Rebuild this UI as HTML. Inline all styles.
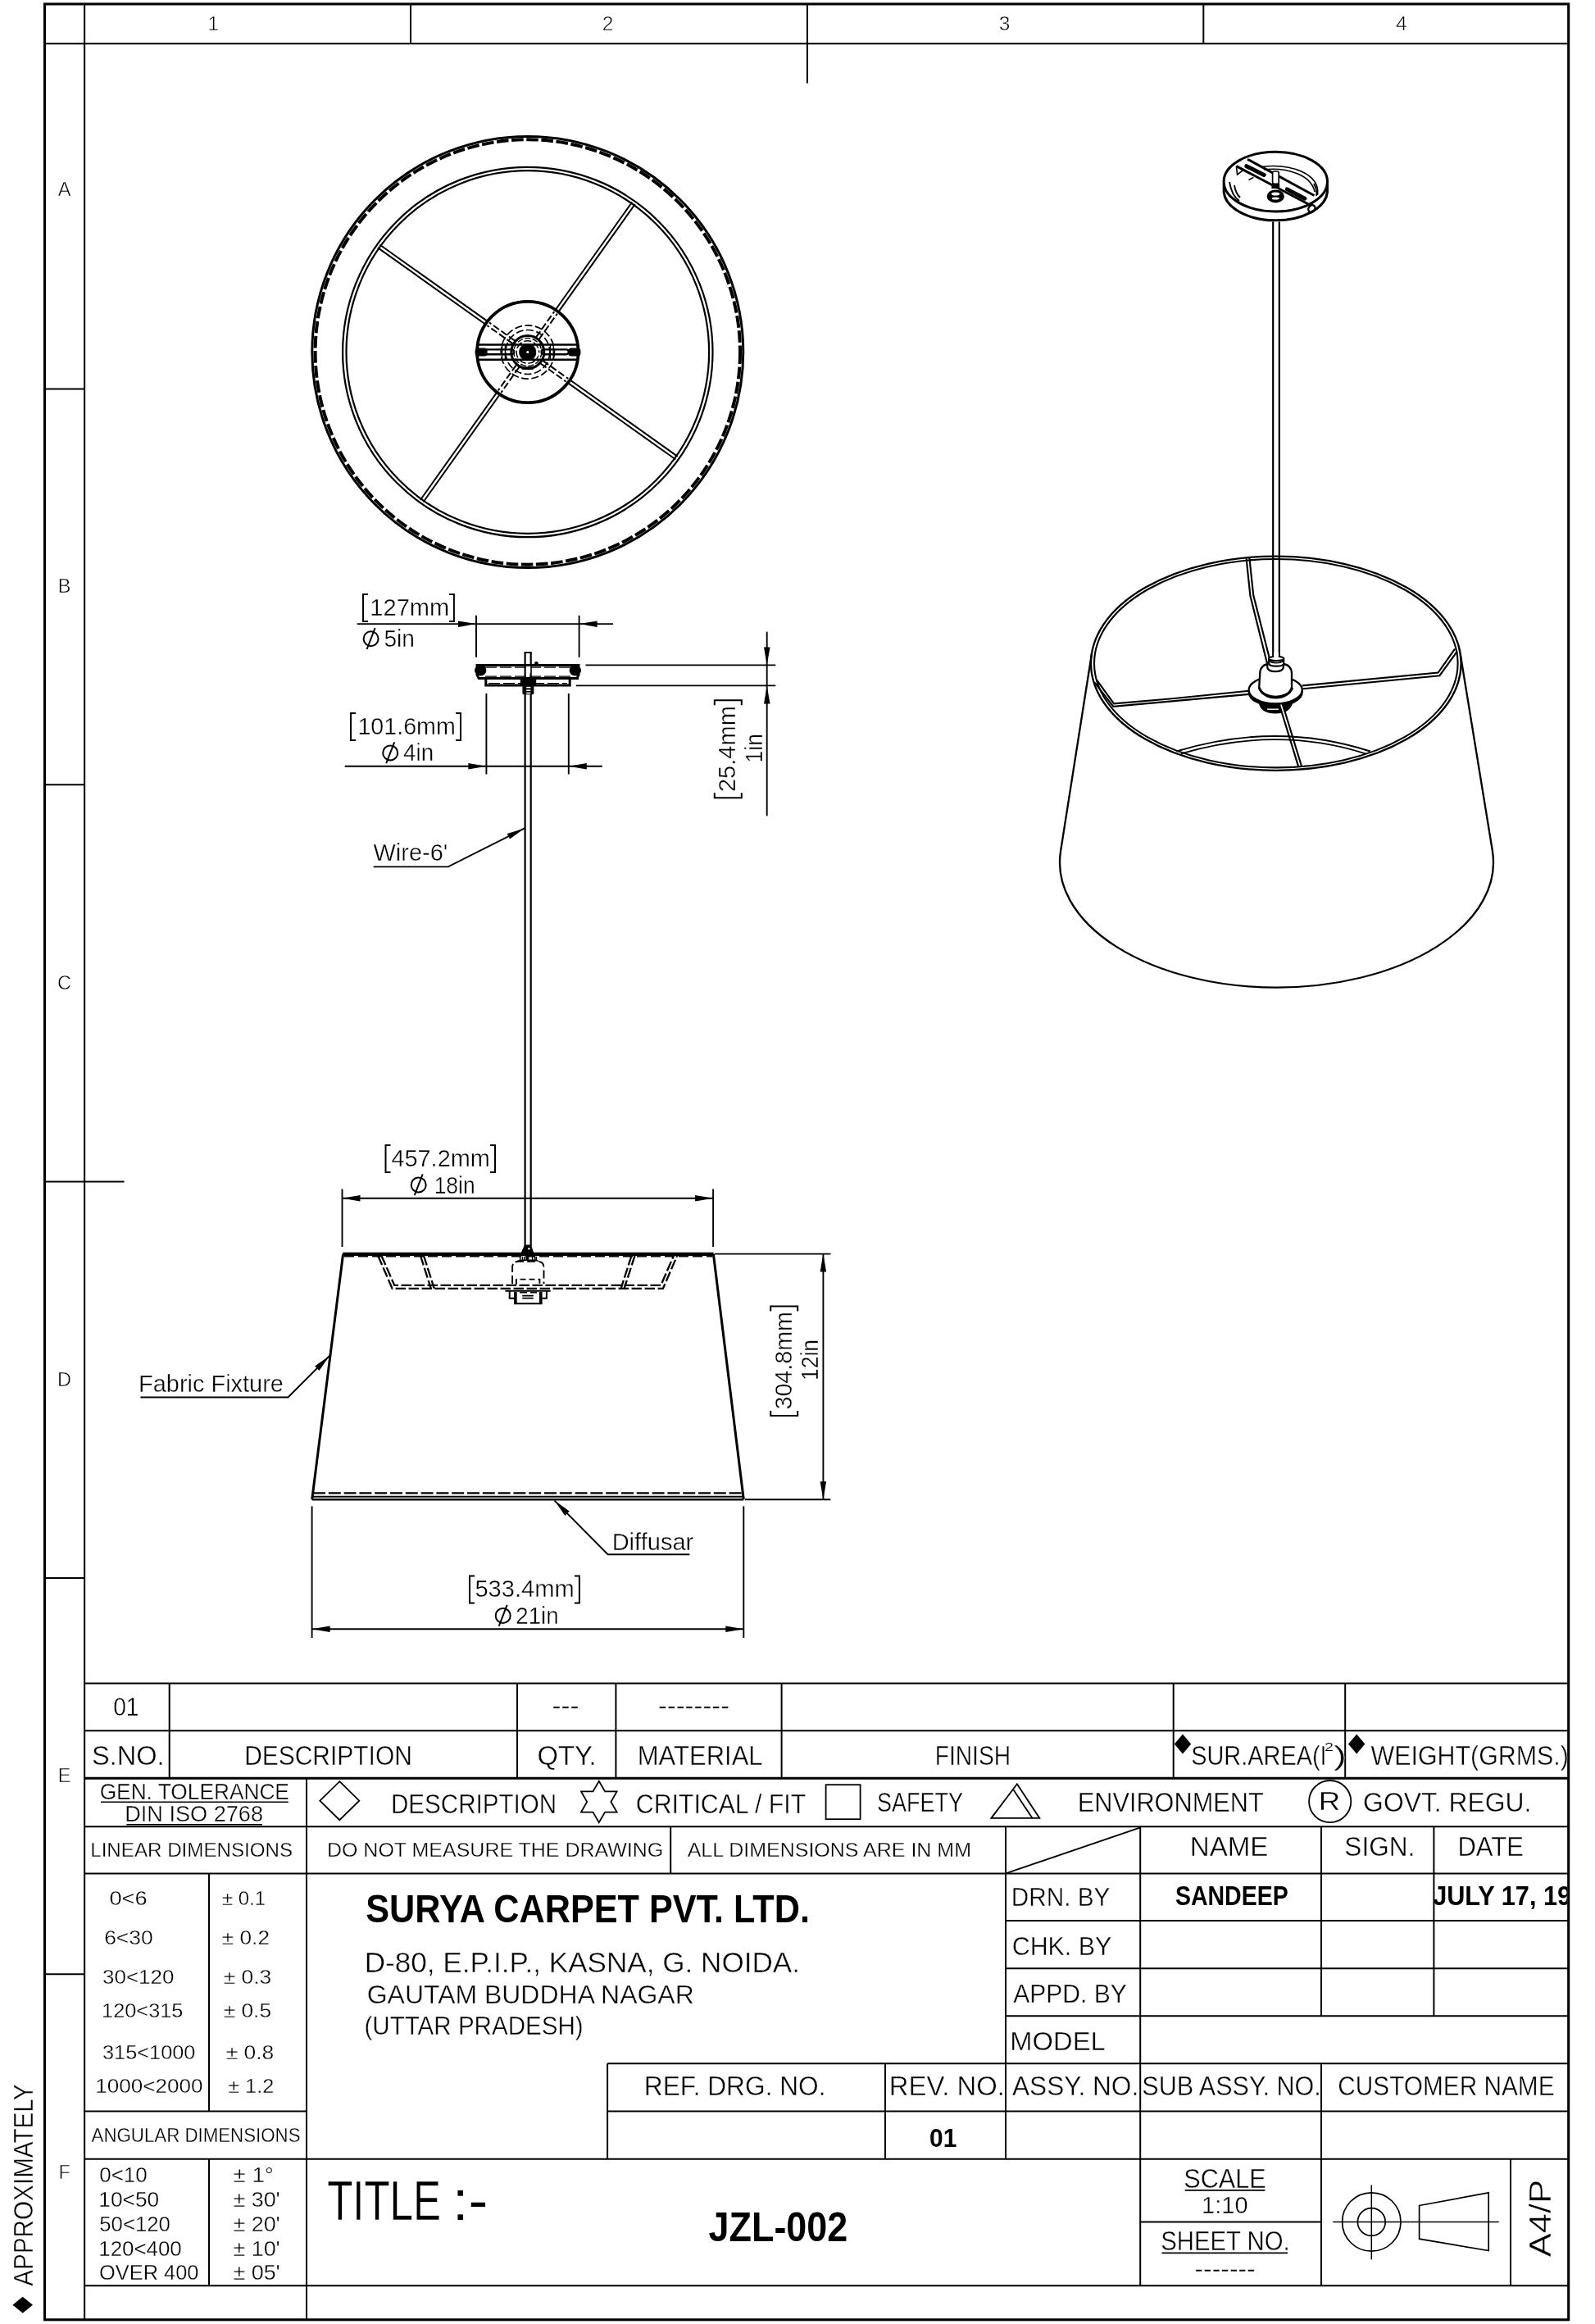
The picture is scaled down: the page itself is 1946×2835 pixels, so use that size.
<!DOCTYPE html>
<html><head><meta charset="utf-8"><title>JZL-002</title>
<style>
html,body{margin:0;padding:0;background:#fff;}
body{width:1946px;height:2835px;}
svg{display:block;font-family:"Liberation Sans",sans-serif;will-change:transform;-webkit-font-smoothing:antialiased;}
svg text{fill:#000;}
</style></head><body>
<svg width="1946" height="2835" viewBox="0 0 1946 2835" fill="none" stroke="#000" stroke-linecap="butt">
<rect x="0" y="0" width="1946" height="2835" fill="#fff" stroke="none"/>
<g id="frame">
<rect x="54.5" y="4.9" width="1859.2" height="2824.9" stroke-width="3.1"/>
<line x1="103.1" y1="4.9" x2="103.1" y2="2829.8" stroke-width="2.1" />
<line x1="54.5" y1="53.3" x2="1913.7" y2="53.3" stroke-width="2.1" />
<line x1="501" y1="4.9" x2="501" y2="53.3" stroke-width="2" />
<line x1="984.9" y1="4.9" x2="984.9" y2="101.6" stroke-width="2" />
<line x1="1468.3" y1="4.9" x2="1468.3" y2="53.3" stroke-width="2" />
<line x1="54.5" y1="474.4" x2="103.1" y2="474.4" stroke-width="2" />
<line x1="54.5" y1="957.2" x2="103.1" y2="957.2" stroke-width="2" />
<line x1="54.5" y1="1924.9" x2="103.1" y2="1924.9" stroke-width="2" />
<line x1="54.5" y1="2408.3" x2="103.1" y2="2408.3" stroke-width="2" />
<line x1="54.5" y1="1441.4" x2="151.5" y2="1441.4" stroke-width="2" />
<text x="260.2" y="36.6" font-size="24.5" text-anchor="middle" stroke="#fff" stroke-width="0.5">1</text>
<text x="741.5" y="36.6" font-size="24.5" text-anchor="middle" stroke="#fff" stroke-width="0.5">2</text>
<text x="1225.6" y="36.6" font-size="24.5" text-anchor="middle" stroke="#fff" stroke-width="0.5">3</text>
<text x="1709.7" y="36.6" font-size="24.5" text-anchor="middle" stroke="#fff" stroke-width="0.5">4</text>
<text x="78.6" y="238.8" font-size="23.5" text-anchor="middle" stroke="#fff" stroke-width="0.5">A</text>
<text x="78.6" y="722.9" font-size="23.5" text-anchor="middle" stroke="#fff" stroke-width="0.5">B</text>
<text x="78.6" y="1207.0" font-size="23.5" text-anchor="middle" stroke="#fff" stroke-width="0.5">C</text>
<text x="78.6" y="1690.6000000000001" font-size="23.5" text-anchor="middle" stroke="#fff" stroke-width="0.5">D</text>
<text x="78.6" y="2174.1" font-size="23.5" text-anchor="middle" stroke="#fff" stroke-width="0.5">E</text>
<text x="78.6" y="2657.6" font-size="23.5" text-anchor="middle" stroke="#fff" stroke-width="0.5">F</text>
<text x="39.54" y="2788.7" font-size="33.12" textLength="246.2" lengthAdjust="spacingAndGlyphs" stroke="#fff" stroke-width="0.43" transform="rotate(-90 39.6 2788.7)" >APPROXIMATELY</text>
<polygon points="27.7,2801.8 40,2811.8 27.7,2821.8 15.4,2811.8" fill="#000" stroke="none"/>
</g>
<g id="topview">
<circle cx="643.8" cy="429.5" r="263" stroke-width="3"/>
<circle cx="643.8" cy="429.5" r="259.2" stroke-width="4" stroke-dasharray="14.6 3.6"/>
<circle cx="643.8" cy="429.5" r="225.7" stroke-width="2.2"/>
<circle cx="643.8" cy="429.5" r="221.3" stroke-width="2.2"/>
<line x1="677.3" y1="378.5" x2="771.2" y2="246.5" stroke-width="2" />
<line x1="654.2" y1="411.1" x2="676.2" y2="380.1" stroke-width="2" stroke-dasharray="8.5 3.2"/>
<line x1="680.9" y1="381.1" x2="774.8" y2="249.0" stroke-width="2" />
<line x1="657.8" y1="413.7" x2="679.8" y2="382.7" stroke-width="2" stroke-dasharray="8.5 3.2"/>
<line x1="694.8" y1="463.0" x2="826.8" y2="556.9" stroke-width="2" />
<line x1="662.2" y1="439.9" x2="693.2" y2="461.9" stroke-width="2" stroke-dasharray="8.5 3.2"/>
<line x1="692.2" y1="466.6" x2="824.3" y2="560.5" stroke-width="2" />
<line x1="659.6" y1="443.5" x2="690.6" y2="465.5" stroke-width="2" stroke-dasharray="8.5 3.2"/>
<line x1="610.3" y1="480.5" x2="516.4" y2="612.5" stroke-width="2" />
<line x1="633.4" y1="447.9" x2="611.4" y2="478.9" stroke-width="2" stroke-dasharray="8.5 3.2"/>
<line x1="606.7" y1="477.9" x2="512.8" y2="610.0" stroke-width="2" />
<line x1="629.8" y1="445.3" x2="607.8" y2="476.3" stroke-width="2" stroke-dasharray="8.5 3.2"/>
<line x1="592.8" y1="396.0" x2="460.8" y2="302.1" stroke-width="2" />
<line x1="625.4" y1="419.1" x2="594.4" y2="397.1" stroke-width="2" stroke-dasharray="8.5 3.2"/>
<line x1="595.4" y1="392.4" x2="463.3" y2="298.5" stroke-width="2" />
<line x1="628.0" y1="415.5" x2="597.0" y2="393.5" stroke-width="2" stroke-dasharray="8.5 3.2"/>
<circle cx="643.8" cy="429.5" r="61.7" stroke-width="3.8"/>
<line x1="582.5" y1="420.4" x2="705.2" y2="420.4" stroke-width="2.5" />
<line x1="582.5" y1="438.8" x2="705.2" y2="438.8" stroke-width="2.5" />
<rect x="591" y="426.4" width="36" height="5.8" rx="2.9" stroke-width="2.4"/>
<rect x="660.6" y="426.4" width="33.2" height="5.8" rx="2.9" stroke-width="2.4"/>
<rect x="579.6" y="424.4" width="15" height="10" rx="3.5" fill="#000" stroke="none"/>
<rect x="693.4" y="424.4" width="15" height="10" rx="3.5" fill="#000" stroke="none"/>
<path d="M612.6,420.4 V438.8 M616.4,420.4 V438.8 M671.4,420.4 V438.8 M675.2,420.4 V438.8" stroke-width="1.4" />
<circle cx="643.8" cy="429.5" r="32.6" stroke-width="1.7" stroke-dasharray="9 3.5"/>
<circle cx="643.8" cy="429.5" r="27" stroke-width="1.7" stroke-dasharray="9 3.5"/>
<circle cx="643.8" cy="429.5" r="20" stroke-width="3"/>
<circle cx="643.8" cy="429.5" r="17" stroke-width="1.4" stroke-dasharray="7 2.5"/>
<circle cx="643.8" cy="429.5" r="13.8" stroke-width="1.6" stroke-dasharray="9 3"/>
<circle cx="643.8" cy="429.5" r="10.6" fill="#000" stroke="none"/>
<circle cx="643.8" cy="429.5" r="1.6" fill="#fff" stroke="none"/>
<path d="M654.4,428.6 l3.6,3.2 l-3.6,3.2" stroke-width="1.6" stroke="#fff"/>
<rect x="636.8" y="447.4" width="14" height="3.4" fill="#000" stroke="none"/>
</g>
<g id="front">
<line x1="640.6" y1="796" x2="640.6" y2="1520" stroke-width="2.2" />
<line x1="647.7" y1="796" x2="647.7" y2="1520" stroke-width="2.2" />
<line x1="639.6" y1="796" x2="648.8" y2="796" stroke-width="1.8" />
<path d="M580.5,811.4 H707.5" stroke-width="3" />
<path d="M583,827.4 H706" stroke-width="3" />
<path d="M581.4,822 L584,827.4 M706.6,822 L704,827.4" stroke-width="3" />
<ellipse cx="586.2" cy="817.8" rx="7.2" ry="6.8" fill="#000" stroke="none"/>
<ellipse cx="701.8" cy="817.8" rx="7.2" ry="6.8" fill="#000" stroke="none"/>
<path d="M592.8,827.4 V836 H695.2 V827.4" stroke-width="3" />
<line x1="592" y1="814.2" x2="696" y2="814.2" stroke-width="1.3" stroke-dasharray="14 4"/>
<line x1="592" y1="825.2" x2="696" y2="825.2" stroke-width="1.3" stroke-dasharray="14 4"/>
<line x1="596" y1="833.6" x2="692" y2="833.6" stroke-width="1.3" stroke-dasharray="14 4"/>
<rect x="634.8" y="826.6" width="19.4" height="9.4" fill="#000" stroke="none"/>
<rect x="637.4" y="836" width="14" height="11.2" rx="2" fill="#000" stroke="none"/>
<rect x="642.2" y="812.8" width="5" height="8.4" fill="#fff" stroke="none"/>
<line x1="642.2" y1="838.6" x2="647.4" y2="838.6" stroke-width="1.6" stroke="#fff"/>
<line x1="642.2" y1="842.2" x2="647.4" y2="842.2" stroke-width="1.6" stroke="#fff"/>
<line x1="642.2" y1="845.4" x2="647.4" y2="845.4" stroke-width="1.6" stroke="#fff"/>
<circle cx="654.4" cy="809.4" r="2.4" fill="#000" stroke="none"/>
<line x1="581" y1="750.8" x2="581" y2="801.8" stroke-width="1.9" />
<line x1="706.6" y1="750.8" x2="706.6" y2="801.8" stroke-width="1.9" />
<line x1="435.7" y1="761.1" x2="581" y2="761.1" stroke-width="1.9" />
<polygon points="581.0,761.1 559.0,764.9 559.0,757.4" fill="#000" stroke="none"/>
<line x1="581" y1="761.1" x2="706.6" y2="761.1" stroke-width="1.9" />
<line x1="706.6" y1="761.1" x2="748" y2="761.1" stroke-width="1.9" />
<polygon points="706.6,761.1 728.6,757.4 728.6,764.9" fill="#000" stroke="none"/>
<path d="M449,725.0 H443 V758.0 H449 M547.9,725.0 H553.9 V758.0 H547.9" stroke-width="2" />
<text x="451.39" y="750.6" font-size="28.98" textLength="96.83" lengthAdjust="spacingAndGlyphs" stroke="#fff" stroke-width="0.38" >127mm</text>
<text x="468.47" y="789.2" font-size="28.98" textLength="37.55" lengthAdjust="spacingAndGlyphs" stroke="#fff" stroke-width="0.38" >5in</text>
<circle cx="452.6" cy="779.2" r="9" stroke-width="2"/>
<line x1="447.6" y1="792.0" x2="457.6" y2="766.2" stroke-width="2" />
<line x1="593.4" y1="846" x2="593.4" y2="944.5" stroke-width="1.9" />
<line x1="693.8" y1="846" x2="693.8" y2="944.5" stroke-width="1.9" />
<line x1="420.7" y1="934.7" x2="593.4" y2="934.7" stroke-width="1.9" />
<polygon points="593.4,934.7 571.4,938.5 571.4,931.0" fill="#000" stroke="none"/>
<line x1="593.4" y1="934.7" x2="693.8" y2="934.7" stroke-width="1.9" />
<line x1="693.8" y1="934.7" x2="734.8" y2="934.7" stroke-width="1.9" />
<polygon points="693.8,934.7 715.8,931.0 715.8,938.5" fill="#000" stroke="none"/>
<path d="M434,870.0 H428 V903.0 H434 M556,870.0 H562 V903.0 H556" stroke-width="2" />
<text x="436.42" y="895.6" font-size="28.98" textLength="119.37" lengthAdjust="spacingAndGlyphs" stroke="#fff" stroke-width="0.38" >101.6mm</text>
<text x="492.06" y="928.2" font-size="28.98" textLength="37.04" lengthAdjust="spacingAndGlyphs" stroke="#fff" stroke-width="0.38" >4in</text>
<circle cx="476.2" cy="918.4" r="9" stroke-width="2"/>
<line x1="471.2" y1="931.1999999999999" x2="481.2" y2="905.4" stroke-width="2" />
<line x1="714.5" y1="811.4" x2="946.3" y2="811.4" stroke-width="1.9" />
<line x1="702.8" y1="836.4" x2="946.3" y2="836.4" stroke-width="1.9" />
<line x1="935.7" y1="770.7" x2="935.7" y2="995.3" stroke-width="1.9" />
<polygon points="935.7,811.4 932.0,789.4 939.5,789.4" fill="#000" stroke="none"/>
<polygon points="935.7,836.4 939.5,858.4 932.0,858.4" fill="#000" stroke="none"/>
<path d="M871.8,967.3 V973.3 H904.8 V967.3 M871.8,860.2 V854.2 H904.8 V860.2" stroke-width="2" />
<text x="895.9399999999999" y="964.6" font-size="28.98" textLength="105.08" lengthAdjust="spacingAndGlyphs" stroke="#fff" stroke-width="0.38" transform="rotate(-90 897.4 964.6)" >25.4mm</text>
<text x="927.6800000000001" y="928.4" font-size="28.98" textLength="35.34" lengthAdjust="spacingAndGlyphs" stroke="#fff" stroke-width="0.38" transform="rotate(-90 929.7 928.4)" >1in</text>
<text x="455.57" y="1049.9" font-size="28.98" textLength="90.68" lengthAdjust="spacingAndGlyphs" stroke="#fff" stroke-width="0.38" >Wire-6'</text>
<path d="M455.7,1057.4 H546.7 L640,1010.4" stroke-width="1.9" />
<polygon points="640.0,1010.4 622.0,1023.6 618.7,1016.9" fill="#000" stroke="none"/>
<path d="M418.4,1529.8 H870.6" stroke-width="4.2" />
<line x1="420" y1="1532.6" x2="869" y2="1532.6" stroke-width="1.8" stroke-dasharray="12 5"/>
<path d="M418.6,1529.8 L380.7,1829.2 M870.4,1529.8 L907.3,1829.2" stroke-width="3" />
<line x1="380.7" y1="1829.3" x2="907.3" y2="1829.3" stroke-width="2.6" />
<line x1="382" y1="1825.7" x2="906" y2="1825.7" stroke-width="1.9" />
<line x1="382" y1="1821.4" x2="906" y2="1821.4" stroke-width="2.2" stroke-dasharray="15 3.8"/>
<path d="M461.1,1531.5 L478.6,1571.9 H808.9 L826.3,1531.5" stroke-width="2.3" stroke-dasharray="12.5 3.5"/>
<path d="M465.3,1531.5 L481.2,1567.9 H806.3 L822.1,1531.5" stroke-width="2.3" stroke-dasharray="12.5 3.5"/>
<path d="M512.9,1531.5 L525.8,1571.9 M516.9,1531.5 L529.8,1571.9 M774.6,1531.5 L761.6,1571.9 M770.6,1531.5 L757.6,1571.9" stroke-width="2.3" stroke-dasharray="12.5 3.5"/>
<path d="M625.1,1566 V1546 Q625.1,1538.9 633,1538.9 H656 Q663.5,1538.9 663.5,1546 V1566" stroke-width="1.9" stroke-dasharray="10 4"/>
<path d="M629.9,1567 V1560.6 H658.4 V1567" stroke-width="1.9" stroke-dasharray="7 4"/>
<path d="M616.4,1574.7 H671.7 M621.7,1574.7 V1583.7 H627.1 M666.9,1574.7 V1583.7 H661.5 M627.1,1590.2 H661.5" stroke-width="2" />
<path d="M628.9,1576 V1590.2 M659.8,1576 V1590.2" stroke-width="3.6" />
<path d="M634,1576.6 H655" stroke-width="1.6" stroke-dasharray="9 4"/>
<path d="M637.2,1580.6 H650.8 M637.2,1583.6 H650.8" stroke-width="1.6" />
<path d="M640.5,1519 L636.6,1528 H650.4 L647.5,1519 Z" stroke-width="1.2" fill="#000"/>
<circle cx="645.4" cy="1523.3" r="1.2" fill="#fff" stroke="none"/>
<path d="M634.6,1532.7 V1537.2 M637.4,1532.7 V1537.2 M639.8,1532.7 V1537.2 M649.6,1532.7 V1537.2 M652.6,1532.7 V1537.2 M654.4,1532.7 V1537.2" stroke-width="1.5" />
<path d="M629,1539.4 Q632,1537.4 638,1537.2 H652 Q655,1537.4 657,1538.4" stroke-width="1.6" />
<ellipse cx="643.4" cy="1535" rx="2" ry="3" fill="#000" stroke="none"/>
<line x1="417.5" y1="1450.5" x2="417.5" y2="1521" stroke-width="1.9" />
<line x1="870.1" y1="1450.5" x2="870.1" y2="1521" stroke-width="1.9" />
<line x1="417.5" y1="1461.7" x2="870.1" y2="1461.7" stroke-width="1.9" />
<polygon points="417.5,1461.7 439.5,1458.0 439.5,1465.5" fill="#000" stroke="none"/>
<polygon points="870.1,1461.7 848.1,1465.5 848.1,1458.0" fill="#000" stroke="none"/>
<path d="M476.5,1397.0 H470.5 V1430.0 H476.5 M598,1397.0 H604 V1430.0 H598" stroke-width="2" />
<text x="477.44" y="1422.6" font-size="28.98" textLength="120.37" lengthAdjust="spacingAndGlyphs" stroke="#fff" stroke-width="0.38" >457.2mm</text>
<text x="529.69" y="1455.7" font-size="28.98" textLength="49.93" lengthAdjust="spacingAndGlyphs" stroke="#fff" stroke-width="0.38" >18in</text>
<circle cx="510.7" cy="1445.4" r="9" stroke-width="2"/>
<line x1="505.7" y1="1458.2" x2="515.7" y2="1432.4" stroke-width="2" />
<line x1="872" y1="1529.6" x2="1013.4" y2="1529.6" stroke-width="1.9" />
<line x1="909" y1="1829.2" x2="1013.4" y2="1829.2" stroke-width="1.9" />
<line x1="1004.4" y1="1529.6" x2="1004.4" y2="1829.2" stroke-width="1.9" />
<polygon points="1004.4,1529.6 1008.1,1551.6 1000.6,1551.6" fill="#000" stroke="none"/>
<polygon points="1004.4,1829.2 1000.6,1807.2 1008.1,1807.2" fill="#000" stroke="none"/>
<path d="M940.1999999999999,1721.1 V1727.1 H973.1999999999999 V1721.1 M940.1999999999999,1599.4 V1593.4 H973.1999999999999 V1599.4" stroke-width="2" />
<text x="964.7099999999999" y="1718.4" font-size="28.98" textLength="119.38" lengthAdjust="spacingAndGlyphs" stroke="#fff" stroke-width="0.38" transform="rotate(-90 965.8 1718.4)" >304.8mm</text>
<text x="995.79" y="1681.9" font-size="28.98" textLength="49.82" lengthAdjust="spacingAndGlyphs" stroke="#fff" stroke-width="0.38" transform="rotate(-90 997.8 1681.9)" >12in</text>
<text x="169.03" y="1697.7" font-size="28.98" textLength="176.96" lengthAdjust="spacingAndGlyphs" stroke="#fff" stroke-width="0.38" >Fabric Fixture</text>
<path d="M171.4,1704.5 H351.5 L402.3,1653.7" stroke-width="1.9" />
<polygon points="402.3,1653.7 389.4,1671.9 384.1,1666.6" fill="#000" stroke="none"/>
<text x="746.63" y="1890.7" font-size="28.98" textLength="99.65" lengthAdjust="spacingAndGlyphs" stroke="#fff" stroke-width="0.38" >Diffusar</text>
<path d="M841.3,1896.2 H741.6 L676.6,1830.6" stroke-width="1.9" />
<polygon points="676.6,1830.6 694.7,1843.6 689.4,1848.9" fill="#000" stroke="none"/>
<line x1="380.6" y1="1837.4" x2="380.6" y2="1998" stroke-width="1.9" />
<line x1="907.3" y1="1837.4" x2="907.3" y2="1998" stroke-width="1.9" />
<line x1="380.6" y1="1987.3" x2="907.3" y2="1987.3" stroke-width="1.9" />
<polygon points="380.6,1987.3 402.6,1983.5 402.6,1991.0" fill="#000" stroke="none"/>
<polygon points="907.3,1987.3 885.3,1991.0 885.3,1983.5" fill="#000" stroke="none"/>
<path d="M579,1922.5 H573 V1955.5 H579 M700.9,1922.5 H706.9 V1955.5 H700.9" stroke-width="2" />
<text x="579.43" y="1948.1" font-size="28.98" textLength="121.39" lengthAdjust="spacingAndGlyphs" stroke="#fff" stroke-width="0.38" >533.4mm</text>
<text x="629.31" y="1981.2" font-size="28.98" textLength="52.39" lengthAdjust="spacingAndGlyphs" stroke="#fff" stroke-width="0.38" >21in</text>
<circle cx="613.7" cy="1970.9" r="9" stroke-width="2"/>
<line x1="608.7" y1="1983.7" x2="618.7" y2="1957.9" stroke-width="2" />
</g>
<g id="iso">
<ellipse cx="1556.3" cy="221.6" rx="63.2" ry="36.4" stroke-width="3"/>
<path d="M1493.2,224 V234.5 A63.2,36.4 0 0 0 1619.4,234.5 V224" stroke-width="3" />
<path d="M1539,203.5 C1575,199 1611,212 1607.5,238" stroke-width="1.6" />
<path d="M1542,206.8 C1570,204 1600,213 1604,234" stroke-width="1.6" />
<path d="M1500,222 C1502,234 1506,241 1512,245 M1506,226 C1507,233 1510,238 1513,241 M1603,224 C1606,229 1607,234 1606,239" stroke-width="1.9" />
<path d="M1508.4,202.7 L1600,251 M1522,194.2 L1603.4,238.5" stroke-width="3" />
<path d="M1520.8,202.7 L1542.2,213.4 M1570.4,230.9 L1591.9,242.2" stroke-width="5" stroke-linecap="round"/>
<path d="M1508.4,202.7 L1509.6,213 L1517,207.4 M1523.4,219.6 L1529.4,216.4" stroke-width="1.6" />
<rect x="1552.6" y="209" width="7.6" height="15.4" rx="2" fill="#fff" stroke-width="1.7"/>
<ellipse cx="1556.3" cy="239.4" rx="10.6" ry="8" fill="#000" stroke="none"/>
<ellipse cx="1556.3" cy="236.6" rx="5" ry="2" fill="#fff" stroke="none"/>
<ellipse cx="1556.3" cy="242" rx="4.6" ry="1.6" fill="#fff" stroke="none"/>
<rect x="1551.4" y="224" width="9.8" height="6" fill="#000" stroke="none"/>
<ellipse cx="1600.4" cy="254.6" rx="3.8" ry="4.6" stroke-width="2.4" transform="rotate(35 1600.4 254.6)"/>
<line x1="1553.2" y1="270.4" x2="1553.2" y2="803.4" stroke-width="2.2" />
<line x1="1560.8" y1="270.4" x2="1560.8" y2="803.4" stroke-width="2.2" />
<ellipse cx="1556.8" cy="809.2" rx="225.8" ry="130.6" stroke-width="2.3"/>
<ellipse cx="1556.8" cy="809.2" rx="221.8" ry="127.19999999999999" stroke-width="2.1"/>
<path d="M1332,797.2 L1294.1,1038 M1781.6,797.2 L1820.9,1038" stroke-width="2.3" />
<path d="M1294.1,1038 A264.5,152.7 0 1 0 1820.9,1038" stroke-width="2.3" />
<path d="M1435.3,916.5 Q1557.6,879.5 1671.7,916.5" stroke-width="1.9" />
<path d="M1441,919.4 Q1557.6,885 1666,919.4" stroke-width="1.7" />
<path d="M1520.6,681.4 L1525.4,726.8 L1546.4,811 M1524.4,681 L1529.2,726 L1549.6,806" stroke-width="2.15" />
<path d="M1588.8,836.4 L1754.6,820.6 L1775,791.6 M1589.4,840.2 L1756.4,824.2 L1778,794.4" stroke-width="2.15" />
<path d="M1523.7,842.8 L1430,852.2 L1359,858.4 L1338.2,829.7 M1524,846.9 L1430,855.4 L1358.3,861.8 L1335.6,832.6" stroke-width="2.15" />
<ellipse cx="1556.2" cy="844.6" rx="32.5" ry="16.6" fill="#000" stroke="#000" stroke-width="2.2"/>
<path d="M1536.9,858 C1539,866 1546,869.4 1556.2,869.4 C1566,869.4 1573.5,866 1576,858 Z" stroke-width="2.2" fill="#000"/>
<path d="M1546,865.2 H1560" stroke-width="1.4" stroke="#fff"/>
<ellipse cx="1556.2" cy="841.7" rx="32.5" ry="16.6" fill="#fff" stroke-width="2.3"/>
<path d="M1561,859.8 L1584,934.6 M1564.8,858.8 L1587.8,934" stroke-width="2.15" />
<path d="M1562.9,859.6 L1566,869.6" stroke-width="1.6" stroke="#fff"/>
<path d="M1537.2,822 C1537.2,814 1542,810.4 1548,810 L1565,810 C1571,810.4 1576,814 1576,822 V838.7 C1572,853.6 1541,853.6 1536.2,838.7 Z" stroke-width="2.3" fill="#fff"/>
<path d="M1536.2,838.7 C1539,847 1548,850.9 1556.4,850.9 C1565,850.9 1574,847 1576.6,838.7" stroke-width="3" />
<path d="M1546.3,808 V814.6 C1548,820.6 1564,820.6 1565.8,814.6 V808 Z" stroke-width="2.2" fill="#fff"/>
<path d="M1548.2,803.6 V810 C1550,813.6 1564,813.6 1566.2,810 V803.6 Z" stroke-width="2.2" fill="#fff"/>
<path d="M1549,806.4 C1552,809.4 1562,809.4 1565.4,806.4" stroke-width="1.8" />
<ellipse cx="1557.2" cy="803.4" rx="9" ry="2.6" fill="#fff" stroke-width="2"/>
<rect x="1554.2" y="796" width="5.6" height="7.4" fill="#fff" stroke="none"/>
</g>
<g id="title">
<line x1="103.1" y1="2053.4" x2="1913.7" y2="2053.4" stroke-width="2" />
<line x1="103.1" y1="2111.3" x2="1913.7" y2="2111.3" stroke-width="2" />
<line x1="103.1" y1="2169.3" x2="1913.7" y2="2169.3" stroke-width="3" />
<line x1="103.1" y1="2228.2" x2="1913.7" y2="2228.2" stroke-width="2" />
<line x1="103.1" y1="2285.4" x2="1913.7" y2="2285.4" stroke-width="2" />
<line x1="1227" y1="2343" x2="1913.7" y2="2343" stroke-width="2" />
<line x1="1227" y1="2401.2" x2="1913.7" y2="2401.2" stroke-width="2" />
<line x1="1227" y1="2459.3" x2="1913.7" y2="2459.3" stroke-width="2" />
<line x1="741.1" y1="2517.3" x2="1913.7" y2="2517.3" stroke-width="2" />
<line x1="103.1" y1="2575.5" x2="374" y2="2575.5" stroke-width="2" />
<line x1="741.1" y1="2575.5" x2="1913.7" y2="2575.5" stroke-width="2" />
<line x1="103.1" y1="2633.8" x2="1913.7" y2="2633.8" stroke-width="2" />
<line x1="1391.4" y1="2710.5" x2="1612" y2="2710.5" stroke-width="2" />
<line x1="103.1" y1="2788.2" x2="1913.7" y2="2788.2" stroke-width="2" />
<line x1="206.7" y1="2053.4" x2="206.7" y2="2169.3" stroke-width="2" />
<line x1="631" y1="2053.4" x2="631" y2="2169.3" stroke-width="2" />
<line x1="751.4" y1="2053.4" x2="751.4" y2="2169.3" stroke-width="2" />
<line x1="953.6" y1="2053.4" x2="953.6" y2="2169.3" stroke-width="2" />
<line x1="1431.7" y1="2053.4" x2="1431.7" y2="2169.3" stroke-width="2" />
<line x1="1641.2" y1="2053.4" x2="1641.2" y2="2169.3" stroke-width="2" />
<line x1="374" y1="2169.3" x2="374" y2="2829.8" stroke-width="2" />
<line x1="255" y1="2285.4" x2="255" y2="2575.5" stroke-width="2" />
<line x1="255" y1="2633.8" x2="255" y2="2788.2" stroke-width="2" />
<line x1="818.2" y1="2228.2" x2="818.2" y2="2285.4" stroke-width="2" />
<line x1="1227" y1="2228.2" x2="1227" y2="2633.8" stroke-width="2" />
<line x1="1391.2" y1="2228.2" x2="1391.2" y2="2788.2" stroke-width="2" />
<line x1="1612" y1="2228.2" x2="1612" y2="2459.3" stroke-width="2" />
<line x1="1612" y1="2517.3" x2="1612" y2="2788.2" stroke-width="2" />
<line x1="1749.4" y1="2228.2" x2="1749.4" y2="2459.3" stroke-width="2" />
<line x1="741.1" y1="2517.3" x2="741.1" y2="2633.8" stroke-width="2" />
<line x1="1080" y1="2517.3" x2="1080" y2="2633.8" stroke-width="2" />
<line x1="1843" y1="2633.8" x2="1843" y2="2788.2" stroke-width="2" />
<line x1="1227" y1="2285.4" x2="1391.2" y2="2229.4" stroke-width="1.8" />
<text x="138.2" y="2093" font-size="31.05" textLength="31.38" lengthAdjust="spacingAndGlyphs" stroke="#fff" stroke-width="0.4" >01</text>
<text x="673.54" y="2090.5" font-size="31.05" textLength="32.93" lengthAdjust="spacingAndGlyphs" stroke="#fff" stroke-width="0.4" >---</text>
<text x="802.95" y="2090.5" font-size="31.05" textLength="87.11" lengthAdjust="spacingAndGlyphs" stroke="#fff" stroke-width="0.4" >--------</text>
<text x="111.92" y="2152.5" font-size="33.64" textLength="88.76" lengthAdjust="spacingAndGlyphs" stroke="#fff" stroke-width="0.44" >S.NO.</text>
<text x="298.14" y="2152.5" font-size="33.64" textLength="204.7" lengthAdjust="spacingAndGlyphs" stroke="#fff" stroke-width="0.44" >DESCRIPTION</text>
<text x="655.43" y="2152.5" font-size="33.64" textLength="72.3" lengthAdjust="spacingAndGlyphs" stroke="#fff" stroke-width="0.44" >QTY.</text>
<text x="777.79" y="2152.5" font-size="33.64" textLength="152.82" lengthAdjust="spacingAndGlyphs" stroke="#fff" stroke-width="0.44" >MATERIAL</text>
<text x="1140.69" y="2153" font-size="33.64" textLength="92.41" lengthAdjust="spacingAndGlyphs" stroke="#fff" stroke-width="0.44" >FINISH</text>
<polygon points="1443,2115.4 1453.2,2127.4 1443,2139.4 1432.8,2127.4" fill="#000" stroke="none"/>
<polygon points="1655.2,2115.4 1665.4,2127.4 1655.2,2139.4 1645,2127.4" fill="#000" stroke="none"/>
<text x="1453.19" y="2153" font-size="33.64" textLength="165.48" lengthAdjust="spacingAndGlyphs" stroke="#fff" stroke-width="0.44" >SUR.AREA(I</text>
<text x="1616.01" y="2136" font-size="14.49" textLength="10.99" lengthAdjust="spacingAndGlyphs" stroke="#fff" stroke-width="0.19" >2</text>
<text x="1626.71" y="2153" font-size="33.64" textLength="16.33" lengthAdjust="spacingAndGlyphs" stroke="#fff" stroke-width="0.44" >)</text>
<text x="1672.57" y="2153" font-size="33.64" textLength="241.32" lengthAdjust="spacingAndGlyphs" stroke="#fff" stroke-width="0.44" >WEIGHT(GRMS.)</text>
<text x="121.68" y="2194.7" font-size="27.94" textLength="231.24" lengthAdjust="spacingAndGlyphs" stroke="#fff" stroke-width="0.36" >GEN. TOLERANCE</text>
<line x1="123" y1="2198.2999999999997" x2="351.8" y2="2198.2999999999997" stroke-width="1.6" />
<text x="152.17" y="2222.4" font-size="27.94" textLength="168.9" lengthAdjust="spacingAndGlyphs" stroke="#fff" stroke-width="0.36" >DIN ISO 2768</text>
<line x1="154.4" y1="2225.8" x2="319.9" y2="2225.8" stroke-width="1.6" />
<text x="110.22" y="2264.5" font-size="24.32" textLength="246.89" lengthAdjust="spacingAndGlyphs" stroke="#fff" stroke-width="0.32" >LINEAR DIMENSIONS</text>
<polygon points="414.3,2173.2 438.3,2196.7 414.3,2220.2 390.3,2196.7" stroke-width="1.8"/>
<text x="476.97" y="2211.5" font-size="33.12" textLength="202.24" lengthAdjust="spacingAndGlyphs" stroke="#fff" stroke-width="0.43" >DESCRIPTION</text>
<polygon points="730.8,2172.8 738.1,2185.4 752.6,2185.4 745.4,2198.0 752.6,2210.6 738.1,2210.6 730.8,2223.2 723.5,2210.6 709.0,2210.6 716.2,2198.0 709.0,2185.4 723.5,2185.4" stroke-width="1.8"/>
<text x="775.77" y="2211.6" font-size="32.6" textLength="207.42" lengthAdjust="spacingAndGlyphs" stroke="#fff" stroke-width="0.42" >CRITICAL / FIT</text>
<rect x="1007.6" y="2177.2" width="42" height="42" stroke-width="1.8"/>
<text x="1070.07" y="2210" font-size="33.12" textLength="105.02" lengthAdjust="spacingAndGlyphs" stroke="#fff" stroke-width="0.43" >SAFETY</text>
<polygon points="1209.4,2217.9 1240.9,2176.3 1268.3,2217.9" stroke-width="1.8"/>
<line x1="1236.6" y1="2183.5" x2="1259.6" y2="2217.9" stroke-width="1.8" />
<text x="1314.78" y="2210" font-size="33.12" textLength="226.92" lengthAdjust="spacingAndGlyphs" stroke="#fff" stroke-width="0.43" >ENVIRONMENT</text>
<circle cx="1622.7" cy="2197.6" r="25.6" stroke-width="1.8"/>
<text x="1608.79" y="2208.4" font-size="32.09" textLength="26.51" lengthAdjust="spacingAndGlyphs" stroke="#fff" stroke-width="0.42" >R</text>
<text x="1663.12" y="2210" font-size="33.12" textLength="205.33" lengthAdjust="spacingAndGlyphs" stroke="#fff" stroke-width="0.43" >GOVT. REGU.</text>
<text x="398.96" y="2264.5" font-size="24.32" textLength="410.3" lengthAdjust="spacingAndGlyphs" stroke="#fff" stroke-width="0.32" >DO NOT MEASURE THE DRAWING</text>
<text x="838.65" y="2264.5" font-size="24.32" textLength="346.39" lengthAdjust="spacingAndGlyphs" stroke="#fff" stroke-width="0.32" >ALL DIMENSIONS ARE IN MM</text>
<text x="1451.78" y="2263.8" font-size="33.12" textLength="95.64" lengthAdjust="spacingAndGlyphs" stroke="#fff" stroke-width="0.43" >NAME</text>
<text x="1640.37" y="2263.8" font-size="33.12" textLength="85.91" lengthAdjust="spacingAndGlyphs" stroke="#fff" stroke-width="0.43" >SIGN.</text>
<text x="1778.42" y="2263.8" font-size="33.12" textLength="80.47" lengthAdjust="spacingAndGlyphs" stroke="#fff" stroke-width="0.43" >DATE</text>
<text x="133.44" y="2324" font-size="24.32" textLength="46.16" lengthAdjust="spacingAndGlyphs" stroke="#fff" stroke-width="0.32" >0&lt;6</text>
<text x="270.94" y="2324" font-size="24.32" textLength="53.13" lengthAdjust="spacingAndGlyphs" stroke="#fff" stroke-width="0.32" >± 0.1</text>
<text x="127.16" y="2372.1" font-size="24.32" textLength="59.58" lengthAdjust="spacingAndGlyphs" stroke="#fff" stroke-width="0.32" >6&lt;30</text>
<text x="270.87" y="2372.1" font-size="24.32" textLength="58.15" lengthAdjust="spacingAndGlyphs" stroke="#fff" stroke-width="0.32" >± 0.2</text>
<text x="125.01" y="2419.6" font-size="24.32" textLength="87.51" lengthAdjust="spacingAndGlyphs" stroke="#fff" stroke-width="0.32" >30&lt;120</text>
<text x="272.66" y="2419.6" font-size="24.32" textLength="58.5" lengthAdjust="spacingAndGlyphs" stroke="#fff" stroke-width="0.32" >± 0.3</text>
<text x="124.07" y="2460.6" font-size="24.32" textLength="99.4" lengthAdjust="spacingAndGlyphs" stroke="#fff" stroke-width="0.32" >120&lt;315</text>
<text x="272.66" y="2460.6" font-size="24.32" textLength="58.44" lengthAdjust="spacingAndGlyphs" stroke="#fff" stroke-width="0.32" >± 0.5</text>
<text x="125.04" y="2511.7" font-size="24.32" textLength="113.35" lengthAdjust="spacingAndGlyphs" stroke="#fff" stroke-width="0.32" >315&lt;1000</text>
<text x="275.66" y="2511.7" font-size="24.32" textLength="58.59" lengthAdjust="spacingAndGlyphs" stroke="#fff" stroke-width="0.32" >± 0.8</text>
<text x="116.21" y="2552.6" font-size="24.32" textLength="131.2" lengthAdjust="spacingAndGlyphs" stroke="#fff" stroke-width="0.32" >1000&lt;2000</text>
<text x="278.2" y="2552.6" font-size="24.32" textLength="56.08" lengthAdjust="spacingAndGlyphs" stroke="#fff" stroke-width="0.32" >± 1.2</text>
<text x="446.29" y="2345" font-size="47.62" textLength="541.6" lengthAdjust="spacingAndGlyphs" font-weight="bold" stroke="none" >SURYA CARPET PVT. LTD.</text>
<text x="444.67" y="2406.4" font-size="34.15" textLength="531.38" lengthAdjust="spacingAndGlyphs" stroke="#fff" stroke-width="0.44" >D-80, E.P.I.P., KASNA, G. NOIDA.</text>
<text x="447.71" y="2443.7" font-size="31.05" textLength="399.06" lengthAdjust="spacingAndGlyphs" stroke="#fff" stroke-width="0.4" >GAUTAM BUDDHA NAGAR</text>
<text x="444.48" y="2481.6" font-size="31.05" textLength="267.24" lengthAdjust="spacingAndGlyphs" stroke="#fff" stroke-width="0.4" >(UTTAR PRADESH)</text>
<text x="1233.86" y="2324.5" font-size="31.05" textLength="120.59" lengthAdjust="spacingAndGlyphs" stroke="#fff" stroke-width="0.4" >DRN. BY</text>
<text x="1234.76" y="2385.1" font-size="31.05" textLength="121.51" lengthAdjust="spacingAndGlyphs" stroke="#fff" stroke-width="0.4" >CHK. BY</text>
<text x="1236.24" y="2442.6" font-size="31.05" textLength="138.62" lengthAdjust="spacingAndGlyphs" stroke="#fff" stroke-width="0.4" >APPD. BY</text>
<text x="1232.32" y="2500.7" font-size="31.05" textLength="116.37" lengthAdjust="spacingAndGlyphs" stroke="#fff" stroke-width="0.4" >MODEL</text>
<text x="1433.88" y="2324" font-size="32.64" textLength="137.8" lengthAdjust="spacingAndGlyphs" font-weight="bold" stroke="none" >SANDEEP</text>
<clipPath id="cd"><rect x="1749" y="2290" width="163.2" height="50"/></clipPath>
<text x="1748.14" y="2323.6" font-size="33.17" textLength="168.97" lengthAdjust="spacingAndGlyphs" font-weight="bold" stroke="none" clip-path="url(#cd)">JULY 17, 19</text>
<text x="785.84" y="2556.4" font-size="32.6" textLength="221.7" lengthAdjust="spacingAndGlyphs" stroke="#fff" stroke-width="0.42" >REF. DRG. NO.</text>
<text x="1084.86" y="2556.4" font-size="32.6" textLength="141.07" lengthAdjust="spacingAndGlyphs" stroke="#fff" stroke-width="0.42" >REV. NO.</text>
<text x="1234.94" y="2556.4" font-size="32.6" textLength="154.38" lengthAdjust="spacingAndGlyphs" stroke="#fff" stroke-width="0.42" >ASSY. NO.</text>
<text x="1393.25" y="2556.4" font-size="32.6" textLength="218.47" lengthAdjust="spacingAndGlyphs" stroke="#fff" stroke-width="0.42" >SUB ASSY. NO.</text>
<text x="1632.29" y="2556.4" font-size="32.6" textLength="264.29" lengthAdjust="spacingAndGlyphs" stroke="#fff" stroke-width="0.42" >CUSTOMER NAME</text>
<text x="1134.12" y="2618.5" font-size="32.1" textLength="33.32" lengthAdjust="spacingAndGlyphs" font-weight="bold" stroke="none" >01</text>
<text x="111.56" y="2613.4" font-size="24.32" textLength="254.97" lengthAdjust="spacingAndGlyphs" stroke="#fff" stroke-width="0.32" >ANGULAR DIMENSIONS</text>
<text x="121.29" y="2662.3" font-size="25.87" textLength="58.43" lengthAdjust="spacingAndGlyphs" stroke="#fff" stroke-width="0.34" >0&lt;10</text>
<text x="284.42" y="2662.3" font-size="25.87" textLength="49.55" lengthAdjust="spacingAndGlyphs" stroke="#fff" stroke-width="0.34" >± 1°</text>
<text x="120.3" y="2692.4" font-size="25.87" textLength="73.83" lengthAdjust="spacingAndGlyphs" stroke="#fff" stroke-width="0.34" >10&lt;50</text>
<text x="284.45" y="2692.4" font-size="25.87" textLength="57.31" lengthAdjust="spacingAndGlyphs" stroke="#fff" stroke-width="0.34" >± 30'</text>
<text x="121.27" y="2721.8" font-size="25.87" textLength="86.64" lengthAdjust="spacingAndGlyphs" stroke="#fff" stroke-width="0.34" >50&lt;120</text>
<text x="284.45" y="2721.8" font-size="25.87" textLength="57.31" lengthAdjust="spacingAndGlyphs" stroke="#fff" stroke-width="0.34" >± 20'</text>
<text x="120.33" y="2751.9" font-size="25.87" textLength="101.38" lengthAdjust="spacingAndGlyphs" stroke="#fff" stroke-width="0.34" >120&lt;400</text>
<text x="284.45" y="2751.9" font-size="25.87" textLength="57.31" lengthAdjust="spacingAndGlyphs" stroke="#fff" stroke-width="0.34" >± 10'</text>
<text x="121.1" y="2781.4" font-size="25.87" textLength="121.29" lengthAdjust="spacingAndGlyphs" stroke="#fff" stroke-width="0.34" >OVER 400</text>
<text x="284.45" y="2781.4" font-size="25.87" textLength="57.31" lengthAdjust="spacingAndGlyphs" stroke="#fff" stroke-width="0.34" >± 05'</text>
<text x="399.15" y="2707.7" font-size="68.93" textLength="138.84" lengthAdjust="spacingAndGlyphs" stroke="#fff" stroke-width="0.5" >TITLE</text>
<text x="551.78" y="2707.7" font-size="68.93" textLength="43.59" lengthAdjust="spacingAndGlyphs" stroke="#fff" stroke-width="0.2" >:-</text>
<text x="864.62" y="2733.5" font-size="50.5" textLength="169.58" lengthAdjust="spacingAndGlyphs" font-weight="bold" stroke="none" >JZL-002</text>
<text x="1444.31" y="2668.5" font-size="33.12" textLength="100.51" lengthAdjust="spacingAndGlyphs" stroke="#fff" stroke-width="0.43" >SCALE</text>
<line x1="1445.7" y1="2671.9" x2="1543.5" y2="2671.9" stroke-width="1.6" />
<text x="1466.09" y="2699.9" font-size="30.01" textLength="56.55" lengthAdjust="spacingAndGlyphs" stroke="#fff" stroke-width="0.39" >1:10</text>
<text x="1416.17" y="2745" font-size="33.12" textLength="157.5" lengthAdjust="spacingAndGlyphs" stroke="#fff" stroke-width="0.43" >SHEET NO.</text>
<line x1="1417.5" y1="2748.4" x2="1571" y2="2748.4" stroke-width="1.6" />
<text x="1457.49" y="2778" font-size="30.01" textLength="74.23" lengthAdjust="spacingAndGlyphs" stroke="#fff" stroke-width="0.39" >-------</text>
<circle cx="1673.3" cy="2710.5" r="35.7" stroke-width="1.7"/>
<circle cx="1673.3" cy="2710.5" r="16.9" stroke-width="1.7"/>
<line x1="1626.3" y1="2710.5" x2="1720.3" y2="2710.5" stroke-width="1.5" />
<line x1="1673.3" y1="2665.4" x2="1673.3" y2="2756.3" stroke-width="1.5" />
<polygon points="1731.6,2690.5 1816.2,2674.8 1816.2,2745.6 1731.6,2731.2" stroke-width="1.7"/>
<line x1="1720.3" y1="2710.5" x2="1828.7" y2="2710.5" stroke-width="1.5" />
<text x="1892.41" y="2753.2" font-size="37.26" textLength="94.59" lengthAdjust="spacingAndGlyphs" stroke="#fff" stroke-width="0.48" transform="rotate(-90 1892.5 2753.2)" >A4/P</text>
</g>
</svg>
</body></html>
